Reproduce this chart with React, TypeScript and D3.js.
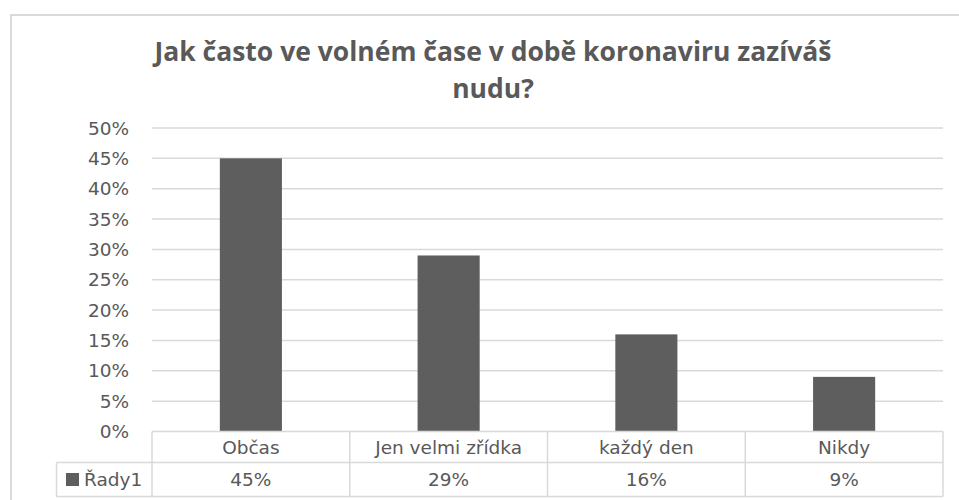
import React from 'react';
import { scaleBand, scaleLinear, range } from 'd3';

const categories = ['Občas', 'Jen velmi zřídka', 'každý den', 'Nikdy'];
const values = [0.45, 0.29, 0.16, 0.09];
const valueLabels = ['45%', '29%', '16%', '9%'];
const yTicks = [0, 0.05, 0.1, 0.15, 0.2, 0.25, 0.3, 0.35, 0.4, 0.45, 0.5];
const seriesName = 'Řady1';
const titleLines = ['Jak často ve volném čase v době koronaviru zazíváš', 'nudu?'];

const W = 959;
const H = 500;
const grey = '#595959';
const line = '#d9d9d9';
const font = 'DejaVu Sans, sans-serif';
const fs = 18.5;

const App = () => {
  const left = 152;
  const right = 943;
  const top = 128;
  const bottom = 431.5;

  const x = scaleBand<string>()
    .domain(categories)
    .range([left, right])
    .paddingInner(0.686)
    .paddingOuter(0.343);
  const y = scaleLinear().domain([0, 0.5]).range([bottom, top]);

  const step = x.step();
  const row1 = bottom;
  const row2 = 462.5;
  const row3 = 496.5;
  const legendLeft = 56.5;

  return (
    <div style={{ position: 'absolute', left: 0, top: 0 }}>
      <svg width={W} height={H} style={{ display: 'block', background: '#fff' }}>
        <rect x={11} y={15} width={960} height={500} fill="#fff" stroke={line} strokeWidth={2} />

        {titleLines.map((t, i) => (
          <text
            key={t}
            x={493}
            y={61 + i * 37}
            textAnchor="middle"
            fontFamily="Open Sans, sans-serif"
            fontWeight="bold"
            fontSize={26.5}
            fill={grey}
          >
            {t}
          </text>
        ))}

        {yTicks.map(t => (
          <g key={t}>
            {t > 0 && (
              <line x1={left} x2={right} y1={y(t)} y2={y(t)} stroke={line} strokeWidth={1.5} />
            )}
            <text x={129} y={y(t)} dy="0.36em" textAnchor="end" fontFamily={font} fontSize={fs} fill={grey}>
              {Math.round(t * 100) + '%'}
            </text>
          </g>
        ))}

        {categories.map((c, i) => (
          <rect
            key={c}
            x={x(c)}
            y={y(values[i])}
            width={x.bandwidth()}
            height={y(0) - y(values[i])}
            fill="#5e5e5e"
          />
        ))}

        {/* data table */}
        <g stroke={line} strokeWidth={1.5} fill="none">
          <line x1={left} x2={right} y1={row1} y2={row1} />
          <line x1={legendLeft} x2={right} y1={row2} y2={row2} />
          <line x1={legendLeft} x2={right} y1={row3} y2={row3} />
          <line x1={legendLeft} x2={legendLeft} y1={row2} y2={row3} />
          {range(categories.length + 1).map(i => (
            <line key={i} x1={left + i * step} x2={left + i * step} y1={row1} y2={row3} />
          ))}
        </g>

        {categories.map((c, i) => (
          <g key={c} fontFamily={font} fontSize={fs} fill={grey} textAnchor="middle">
            <text x={left + (i + 0.5) * step} y={(row1 + row2) / 2} dy="0.36em">{c}</text>
            <text x={left + (i + 0.5) * step} y={(row2 + row3) / 2} dy="0.36em">{valueLabels[i]}</text>
          </g>
        ))}

        <rect x={66} y={473} width={13} height={13} fill="#5e5e5e" />
        <text x={84} y={(row2 + row3) / 2} dy="0.36em" fontFamily={font} fontSize={fs} fill={grey}>
          {seriesName}
        </text>
      </svg>
    </div>
  );
};

export default App;
